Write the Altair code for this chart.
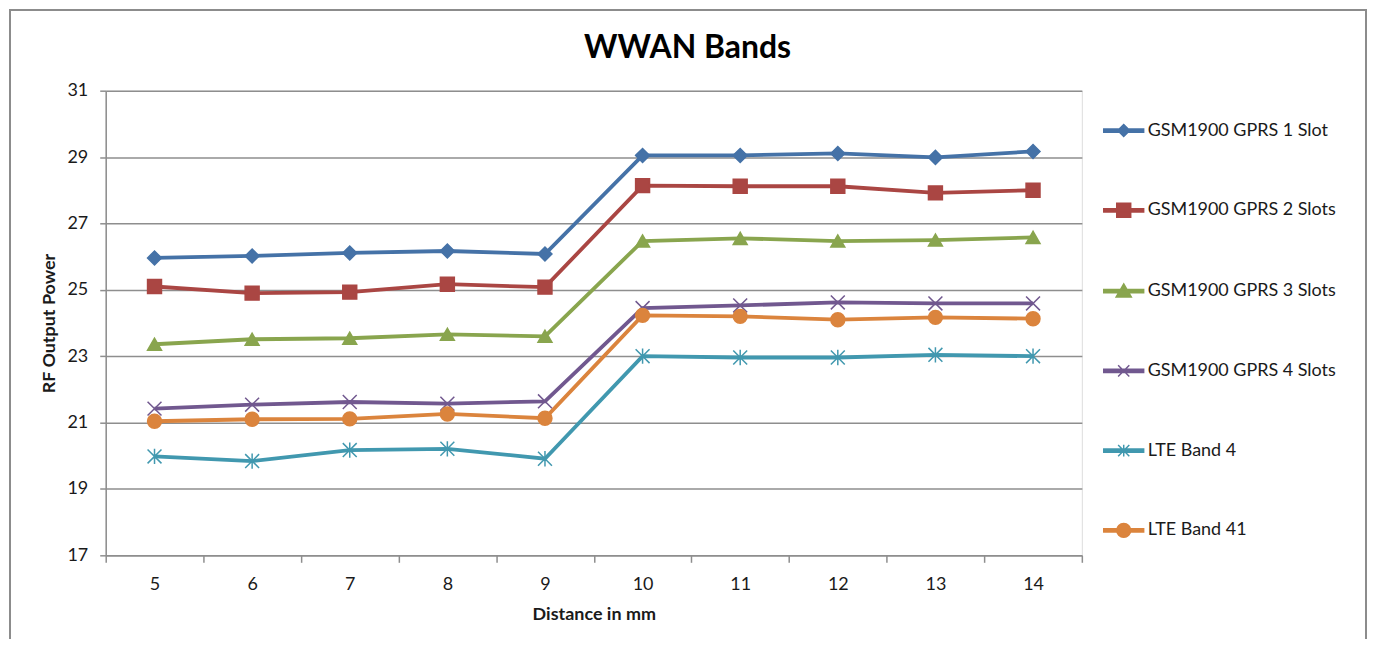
import altair as alt
import pandas as pd

distance = [5, 6, 7, 8, 9, 10, 11, 12, 13, 14]
series_names = ["GSM1900 GPRS 1 Slot", "GSM1900 GPRS 2 Slots", "GSM1900 GPRS 3 Slots",
                "GSM1900 GPRS 4 Slots", "LTE Band 4", "LTE Band 41"]
gsm1 = [25.96, 26.02, 26.11, 26.17, 26.08, 29.05, 29.05, 29.11, 28.99, 29.17]
gsm2 = [25.10, 24.90, 24.93, 25.17, 25.08, 28.14, 28.12, 28.12, 27.92, 28.00]
gsm3 = [23.36, 23.51, 23.54, 23.66, 23.60, 26.47, 26.55, 26.47, 26.50, 26.58]
gsm4 = [21.42, 21.54, 21.62, 21.57, 21.64, 24.45, 24.53, 24.62, 24.59, 24.59]
lte4 = [19.98, 19.84, 20.17, 20.21, 19.91, 23.00, 22.96, 22.96, 23.04, 23.00]
lte41 = [21.04, 21.10, 21.11, 21.26, 21.13, 24.23, 24.20, 24.10, 24.17, 24.13]
y_ticks = [17, 19, 21, 23, 25, 27, 29, 31]

colors = ["#4572A7", "#AA4643", "#89A54E", "#71588F", "#4198AF", "#DB843D"]
X_PATH = "M-1,-1L1,1M-1,1L1,-1"
STAR_PATH = "M-1,-1L1,1M-1,1L1,-1M0,-1.1L0,1.1"
marker_shapes = ["diamond", "square", "triangle-up", X_PATH, STAR_PATH, "circle"]

BAR = "M-1,-0.08H1V0.08H-1Z"
legend_shapes = [
    BAR + "M0,-0.3L0.3,0L0,0.3L-0.3,0Z",
    BAR + "M-0.35,-0.35H0.35V0.35H-0.35Z",
    BAR + "M0,-0.36L0.38,0.3H-0.38Z",
    BAR + "M-0.28,-0.28L0.28,0.28M-0.28,0.28L0.28,-0.28",
    BAR + "M-0.28,-0.28L0.28,0.28M-0.28,0.28L0.28,-0.28M0,-0.3V0.3",
    BAR + "M0.35,0A0.35,0.35 0 1,1 -0.35,0A0.35,0.35 0 1,1 0.35,0Z",
]

rows = []
for name, vals in zip(series_names, [gsm1, gsm2, gsm3, gsm4, lte4, lte41]):
    for d, v in zip(distance, vals):
        rows.append({"distance": d, "power": v, "series": name})
df = pd.DataFrame(rows)

FONT = "Lato"
GRID = "#8e8e8e"
TXT = "#1a1a1a"

xscale = alt.Scale(domain=[4.5, 14.5], nice=False, zero=False)
yscale = alt.Scale(domain=[17, 31], nice=False, zero=False)
cscale = alt.Scale(domain=series_names, range=colors)

yaxis = alt.Axis(values=y_ticks, grid=True, gridColor=GRID, gridWidth=1.5, orient="left",
                 tickSize=6, tickColor=GRID, tickWidth=1.5, domainColor=GRID,
                 domainWidth=1.5, labelFont=FONT, labelFontSize=18,
                 labelColor=TXT, labelPadding=12, title="RF Output Power",
                 titleFont=FONT, titleFontSize=18, titleFontWeight="bold",
                 titleColor=TXT, titlePadding=8)

base = alt.Chart(df)

lines = base.mark_line(strokeWidth=3.8).encode(
    x=alt.X("distance:Q", scale=xscale,
            axis=alt.Axis(values=[v - 0.5 for v in distance] + [14.5], labels=False,
                          orient="bottom", tickSize=7, tickColor=GRID, tickWidth=1.5,
                          domainColor=GRID, domainWidth=1.5, grid=False, title=None)),
    y=alt.Y("power:Q", scale=yscale, axis=yaxis),
    color=alt.Color("series:N", scale=cscale, legend=None),
    detail="series:N",
)

points = base.mark_point(filled=True, opacity=1, strokeWidth=1.5).encode(
    x=alt.X("distance:Q", scale=xscale,
            axis=alt.Axis(values=distance, orient="bottom", ticks=False, domain=False,
                          grid=False, labelFont=FONT, labelFontSize=18, labelColor=TXT,
                          labelPadding=20, title="Distance in mm", titleFont=FONT,
                          titleFontSize=18, titleFontWeight="bold", titleColor=TXT,
                          titlePadding=12)),
    y=alt.Y("power:Q", scale=yscale, axis=yaxis),
    fill=alt.Fill("series:N", scale=cscale, legend=None),
    stroke=alt.Stroke("series:N", scale=cscale, legend=None),
    shape=alt.Shape("series:N", scale=alt.Scale(domain=series_names, range=marker_shapes),
                    legend=None),
    size=alt.value(195),
)

leg = alt.Legend(title=None, orient="none", legendX=1000, legendY=19, padding=0,
                 symbolSize=1600, symbolStrokeWidth=1.5, symbolOpacity=1,
                 rowPadding=50, labelOffset=3, labelFont=FONT, labelFontSize=18,
                 labelColor=TXT, labelLimit=300)

legend_layer = base.transform_filter("datum.power < 0").mark_point(
    filled=True, opacity=1, strokeWidth=1.5, size=1600
).encode(
    fill=alt.Fill("series:N", scale=cscale, legend=leg),
    stroke=alt.Stroke("series:N", scale=cscale, legend=leg),
    shape=alt.Shape("series:N", scale=alt.Scale(domain=series_names, range=legend_shapes),
                    legend=leg),
)

border = alt.Chart(alt.Data(values=[{"a": 1}])).mark_rect(
    fillOpacity=0, stroke="#8c8c8c", strokeWidth=2
).encode(
    x=alt.value(-96), x2=alt.value(1264), y=alt.value(-81), y2=alt.value(570)
)

chart = alt.layer(border, lines, points, legend_layer).resolve_scale(
    fill="independent", stroke="independent", shape="independent"
).resolve_axis(x="independent").properties(
    width=979, height=466,
    autosize=alt.AutoSizeParams(type="none"),
    padding={"left": 98, "top": 82, "right": 287, "bottom": 83},
    title=alt.TitleParams("WWAN Bands", font=FONT, fontSize=32, fontWeight="bold",
                          color="#000000", anchor="middle", dx=94, dy=114, offset=33,
                          baseline="alphabetic"),
).configure_view(strokeWidth=0).configure(background="white")

chart.save("out.html", embed_options={"renderer": "svg", "actions": False})
